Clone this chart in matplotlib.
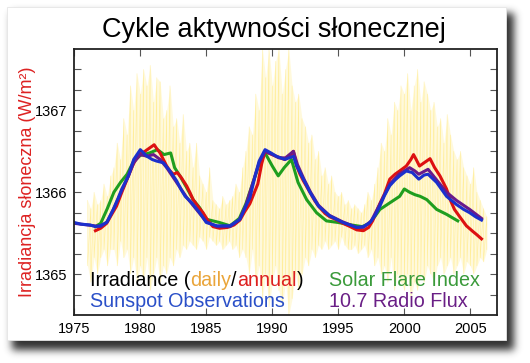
import numpy as np
import matplotlib
matplotlib.use("Agg")
import matplotlib.pyplot as plt
from matplotlib.patches import Rectangle

plt.rcParams['font.family'] = ['Liberation Sans', 'DejaVu Sans']

# ---- data ----
# daily irradiance spread, quarter-year steps from 1976.0
daily_hi = [1365.9, 1365.8, 1366.0, 1365.85, 1365.9, 1366.1, 1365.95, 1366.2,
            1366.3, 1366.6, 1366.4, 1366.9, 1366.7, 1367.3, 1367.0, 1367.45,
            1367.2, 1367.5, 1367.3, 1367.55, 1367.1, 1367.4, 1367.35, 1366.9,
            1367.0, 1367.3, 1366.8, 1366.9, 1366.6, 1366.95, 1366.5, 1366.6,
            1366.3, 1366.6, 1366.2, 1366.1, 1366.0, 1366.3, 1365.9, 1365.85,
            1365.8, 1365.95, 1365.85, 1365.9, 1365.95, 1366.1, 1366.0, 1366.3,
            1366.5, 1366.8, 1366.7, 1367.2, 1367.0, 1367.75, 1367.4, 1367.75,
            1367.3, 1367.6, 1367.75, 1367.2, 1367.5, 1367.75, 1367.3, 1367.1,
            1367.2, 1366.9, 1366.8, 1366.6, 1366.7, 1366.4, 1366.5, 1366.2,
            1366.3, 1366.1, 1366.2, 1366.0, 1365.95, 1366.0, 1365.85, 1365.9,
            1365.8, 1365.85, 1365.8, 1365.75, 1365.85, 1366.0, 1365.9, 1366.1,
            1366.3, 1366.6, 1366.5, 1366.9, 1366.7, 1367.1, 1367.0, 1367.3,
            1367.2, 1367.45, 1367.0, 1367.3, 1367.5, 1367.1, 1367.35, 1367.2,
            1367.0, 1367.1, 1366.8, 1366.9, 1366.6, 1366.95, 1366.7, 1366.5,
            1366.4, 1366.5, 1366.3, 1366.2, 1366.1, 1366.3, 1366.0, 1365.9,
            1365.8, 1365.7]
daily_lo = [1365.1, 1364.9, 1365.2, 1365.0, 1365.2, 1365.3, 1365.1, 1365.3,
            1365.3, 1365.1, 1365.4, 1365.2, 1365.3, 1365.0, 1365.2, 1364.9,
            1365.1, 1364.9, 1365.2, 1364.8, 1365.0, 1365.2, 1364.9, 1365.1,
            1365.0, 1365.2, 1365.1, 1365.3, 1365.2, 1365.35, 1365.3, 1365.4,
            1365.35, 1365.3, 1365.45, 1365.4, 1365.3, 1365.45, 1365.4, 1365.35,
            1365.4, 1365.3, 1365.35, 1365.4, 1365.3, 1365.35, 1365.2, 1365.3,
            1365.2, 1365.0, 1365.3, 1364.9, 1365.1, 1364.7, 1365.0, 1364.6,
            1364.9, 1365.1, 1364.8, 1364.6, 1364.9, 1364.5, 1364.7, 1365.0,
            1364.8, 1365.0, 1365.2, 1365.1, 1365.3, 1365.2, 1365.35, 1365.3,
            1365.4, 1365.3, 1365.35, 1365.4, 1365.3, 1365.45, 1365.35, 1365.3,
            1365.3, 1365.35, 1365.25, 1365.3, 1365.35, 1365.2, 1365.3, 1365.1,
            1365.2, 1365.0, 1365.1, 1364.9, 1365.2, 1364.8, 1365.0, 1364.9,
            1364.8, 1365.0, 1364.7, 1364.9, 1364.8, 1365.0, 1364.9, 1365.1,
            1365.0, 1364.9, 1365.1, 1365.2, 1365.0, 1365.1, 1365.2, 1365.0,
            1365.1, 1365.2, 1365.0, 1365.15, 1365.1, 1365.0, 1365.1, 1365.2,
            1365.15, 1365.3]
yr_daily = 1976.0 + 0.25 * np.arange(len(daily_hi))

yr_irr = [1976.6, 1977.0, 1977.45, 1977.8, 1978.2, 1978.6, 1979.0, 1979.4, 1979.7, 1980.0,
          1980.35, 1980.7, 1981.05, 1981.3, 1981.5, 1981.75, 1982.0, 1982.25, 1982.5, 1982.8,
          1983.1, 1983.5, 1983.75, 1984.0, 1984.4, 1984.75, 1985.1, 1985.5, 1986.0, 1986.6,
          1987.1, 1987.55, 1987.9, 1988.3, 1988.6, 1988.9, 1989.2, 1989.45, 1989.7, 1990.0,
          1990.3, 1990.6, 1990.95, 1991.3, 1991.6, 1991.85, 1992.1, 1992.35, 1992.85, 1993.2,
          1993.5, 1994.0, 1994.35, 1994.9, 1995.35, 1995.9, 1996.4, 1996.9, 1997.3, 1997.6,
          1998.15, 1998.5, 1998.9, 1999.3, 1999.65, 2000.15, 2000.5, 2000.7, 2000.9, 2001.15,
          2001.5, 2001.95, 2002.3, 2002.7, 2003.2, 2003.5, 2003.8, 2004.2, 2004.7, 2005.2,
          2005.5, 2005.85]
irr_annual = [1365.53, 1365.56, 1365.62, 1365.72, 1365.83, 1366.00, 1366.16, 1366.32, 1366.42, 1366.47,
              1366.50, 1366.54, 1366.58, 1366.52, 1366.48, 1366.40, 1366.32, 1366.26, 1366.22, 1366.24,
              1366.18, 1366.08, 1366.00, 1365.91, 1365.82, 1365.75, 1365.66, 1365.58, 1365.56, 1365.57,
              1365.60, 1365.66, 1365.76, 1365.86, 1365.98, 1366.10, 1366.35, 1366.50, 1366.48, 1366.46,
              1366.44, 1366.42, 1366.40, 1366.44, 1366.50, 1366.32, 1366.22, 1366.14, 1366.00, 1365.90,
              1365.83, 1365.74, 1365.70, 1365.66, 1365.62, 1365.58, 1365.54, 1365.53, 1365.57, 1365.65,
              1365.86, 1365.98, 1366.16, 1366.22, 1366.26, 1366.32, 1366.40, 1366.46, 1366.40, 1366.32,
              1366.36, 1366.41, 1366.30, 1366.20, 1366.04, 1365.90, 1365.79, 1365.70, 1365.59, 1365.52,
              1365.48, 1365.43]

yr_spot = [1975.0, 1975.5, 1976.2, 1976.6, 1976.95, 1977.45, 1977.95, 1978.3, 1978.6, 1979.1,
           1979.5, 1980.0, 1980.5, 1980.9, 1981.25, 1981.75, 1982.25, 1982.75, 1983.1, 1983.4,
           1983.9, 1984.5, 1985.0, 1985.8, 1986.8, 1987.55, 1988.05, 1988.3, 1988.7, 1989.0,
           1989.45, 1989.9, 1990.3, 1990.95, 1991.6, 1991.85, 1992.35, 1992.85, 1993.5, 1994.35,
           1995.35, 1996.4, 1996.9, 1997.4, 1997.8, 1998.15, 1998.5, 1998.9, 1999.3, 1999.65,
           2000.15, 2000.6, 2001.1, 2001.5, 2001.8, 2002.45, 2003.2, 2003.95, 2004.5, 2004.95,
           2005.4, 2005.85]
spot = [1365.63, 1365.61, 1365.60, 1365.58, 1365.59, 1365.63, 1365.79, 1365.92, 1366.04, 1366.20,
        1366.40, 1366.52, 1366.44, 1366.40, 1366.38, 1366.36, 1366.26, 1366.14, 1366.03, 1365.95,
        1365.87, 1365.75, 1365.63, 1365.59, 1365.59, 1365.67, 1365.85, 1365.93, 1366.20, 1366.38,
        1366.52, 1366.48, 1366.44, 1366.40, 1366.44, 1366.32, 1366.16, 1366.00, 1365.83, 1365.71,
        1365.63, 1365.57, 1365.58, 1365.63, 1365.72, 1365.83, 1365.96, 1366.08, 1366.15, 1366.20,
        1366.26, 1366.24, 1366.16, 1366.21, 1366.22, 1366.12, 1365.95, 1365.85, 1365.79, 1365.75,
        1365.70, 1365.66]

yr_radio = [1975.0, 1976.0, 1977.0, 1977.5, 1978.0, 1978.6, 1979.1, 1979.5, 1980.0, 1980.5,
            1981.0, 1981.5, 1982.0, 1982.5, 1983.0, 1983.5, 1984.0, 1984.5, 1985.0, 1985.8,
            1986.8, 1987.5, 1988.0, 1988.5, 1989.0, 1989.45, 1990.0, 1990.5, 1991.0, 1991.6,
            1991.9, 1992.4, 1992.9, 1993.5, 1994.3, 1995.3, 1996.4, 1996.9, 1997.5, 1998.1,
            1998.9, 1999.6, 2000.4, 2000.8, 2001.1, 2001.8, 2002.4, 2003.2, 2003.95, 2004.95,
            2005.85]
radio = [1365.62, 1365.60, 1365.58, 1365.64, 1365.80, 1366.02, 1366.20, 1366.36, 1366.46, 1366.44,
         1366.46, 1366.40, 1366.30, 1366.18, 1366.06, 1365.94, 1365.84, 1365.74, 1365.64, 1365.58,
         1365.58, 1365.66, 1365.84, 1366.10, 1366.36, 1366.50, 1366.46, 1366.42, 1366.42, 1366.50,
         1366.34, 1366.16, 1366.00, 1365.84, 1365.72, 1365.64, 1365.57, 1365.57, 1365.65, 1365.84,
         1366.10, 1366.22, 1366.30, 1366.26, 1366.22, 1366.28, 1366.16, 1366.00, 1365.90, 1365.79,
         1365.68]

yr_flare = [1976.6, 1977.0, 1977.5, 1978.0, 1978.5, 1979.0, 1979.5, 1980.0, 1980.7, 1981.3,
            1981.8, 1982.3, 1982.6, 1983.0, 1983.5, 1984.0, 1984.5, 1985.0, 1985.5, 1986.0,
            1986.8, 1987.5, 1988.0, 1988.5, 1989.0, 1989.45, 1990.0, 1990.45, 1990.9, 1991.45,
            1991.95, 1992.6, 1993.35, 1994.1, 1995.0, 1996.0, 1996.8, 1997.4, 1998.15, 1998.9,
            1999.65, 2000.0, 2000.4, 2000.8, 2001.2, 2001.7, 2002.45, 2003.2, 2004.05]
flare = [1365.58, 1365.62, 1365.80, 1366.00, 1366.12, 1366.22, 1366.38, 1366.45, 1366.48, 1366.52,
         1366.46, 1366.48, 1366.30, 1366.20, 1366.06, 1365.91, 1365.81, 1365.67, 1365.65, 1365.63,
         1365.59, 1365.68, 1365.86, 1366.10, 1366.34, 1366.48, 1366.32, 1366.20, 1366.30, 1366.40,
         1366.12, 1365.91, 1365.75, 1365.65, 1365.63, 1365.60, 1365.58, 1365.62, 1365.79, 1365.87,
         1365.95, 1366.04, 1366.00, 1365.97, 1365.95, 1365.91, 1365.79, 1365.73, 1365.65]

W, H = 530, 363
fig = plt.figure(figsize=(W / 100, H / 100), dpi=100)
fig.patch.set_facecolor('white')

# card with drop shadow
bg = fig.add_axes([0, 0, 1, 1])
bg.set_xlim(0, W)
bg.set_ylim(H, 0)
bg.axis('off')
mask = np.zeros((H, W))
mask[13:350, 12:514] = 1.0
k = np.exp(-0.5 * (np.arange(-12, 13) / 4.0) ** 2)
k /= k.sum()
mask = np.apply_along_axis(lambda r: np.convolve(r, k, mode='same'), 1, mask)
mask = np.apply_along_axis(lambda c: np.convolve(c, k, mode='same'), 0, mask)
shadow = np.zeros((H, W, 4))
shadow[..., :3] = 0.12
shadow[..., 3] = mask * 0.92
bg.imshow(shadow, extent=[0, W, H, 0], aspect='auto', interpolation='bilinear')
bg.add_patch(Rectangle((7, 7), 499, 333, facecolor='white', edgecolor='#e6e6e6', lw=0.6))

ax = fig.add_axes([74.3 / W, 48 / H, 422.4 / W, 266 / H])
ax.set_facecolor('white')

# daily spikes
ax.fill_between(yr_daily, daily_lo, daily_hi, color='#fff6c6', alpha=0.6, lw=0)
zx = np.repeat(yr_daily, 2)
zy = np.column_stack([daily_hi, daily_lo]).ravel()
ax.plot(zx, zy, color='#ffe04a', lw=0.4, alpha=0.45)

ax.plot(yr_flare, flare, color='#1f9e1f', lw=2.2)
ax.plot(yr_irr, irr_annual, color='#dd1111', lw=2.2)
ax.plot(yr_radio, radio, color='#6a1a8a', lw=2.2)
ax.plot(yr_spot, spot, color='#1c30cc', lw=2.2)

ax.set_xlim(1975, 2007)
ax.set_ylim(1364.5, 1367.75)
ax.set_xticks(range(1975, 2006, 5))
ax.set_yticks([1365, 1366, 1367])
ax.set_yticks(np.arange(1364.75, 1367.75, 0.25), minor=True)
ax.tick_params(which='both', direction='in', top=True, right=True, length=5,
               width=0.8, color='#555555', labelsize=10.5, pad=5)
for s in ax.spines.values():
    s.set_linewidth(1.3)
    s.set_color('#222222')

fig.text(274 / W, 1 - 37 / H, 'Cykle aktywności słonecznej', fontsize=19.5,
         ha='center', va='baseline', color='black')
fig.text(28 / W, 1 - 182 / H, 'Irradiancja słoneczna (W/m²)', fontsize=13,
         rotation=90, ha='center', va='center', color='#dd2222')

# coloured legend text
renderer = fig.canvas.get_renderer()


def parts(x, y, pieces, size=14.2):
    for txt, col in pieces:
        t = fig.text(x / W, 1 - y / H, txt, fontsize=size, color=col,
                     va='baseline', ha='left')
        bb = t.get_window_extent(renderer)
        x = bb.x1


parts(90, 286, [('Irradiance (', 'black'), ('daily', '#eaa53a'), ('/', 'black'),
                ('annual', '#dd2020'), (')', 'black')])
parts(90, 307, [('Sunspot Observations', '#2a4fc8')])
parts(329, 286, [('Solar Flare Index', '#3a9a3a')])
parts(329, 307, [('10.7 Radio Flux', '#6a1f86')])

fig.savefig('out.png', dpi=100)
